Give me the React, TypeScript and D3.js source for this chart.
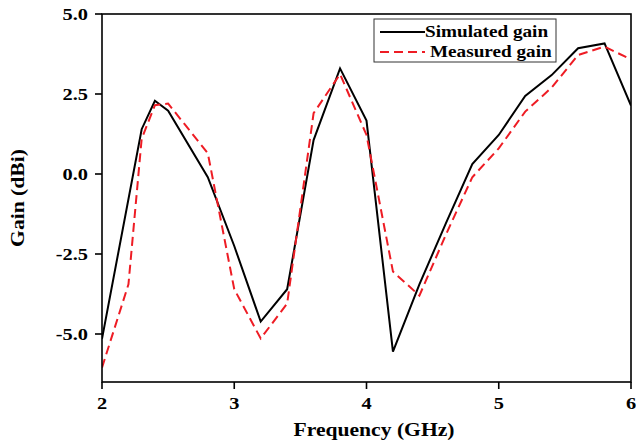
import React from "react";
import * as d3 from "d3";

const simFreq = [2.0, 2.3, 2.4, 2.5, 2.8, 3.0, 3.2, 3.4, 3.6, 3.8, 4.0, 4.2, 4.4, 4.6, 4.8, 5.0, 5.2, 5.4, 5.6, 5.8, 6.0];
const simGain = [-5.15, 1.4, 2.29, 1.98, -0.1, -2.25, -4.61, -3.6, 1.06, 3.3, 1.67, -5.55, -3.45, -1.54, 0.31, 1.22, 2.44, 3.09, 3.93, 4.08, 2.14];

const measFreq = [2.0, 2.2, 2.3, 2.4, 2.5, 2.8, 3.0, 3.2, 3.4, 3.6, 3.8, 4.0, 4.2, 4.4, 4.6, 4.8, 5.0, 5.2, 5.4, 5.6, 5.8, 6.0];
const measGain = [-6.05, -3.45, 1.1, 2.15, 2.2, 0.65, -3.6, -5.14, -4.05, 1.9, 3.12, 1.22, -3.05, -3.8, -1.9, -0.1, 0.8, 1.95, 2.7, 3.72, 3.98, 3.58];

const xTicks = [2, 3, 4, 5, 6];
const yTicks = [-5.0, -2.5, 0.0, 2.5, 5.0];
const seriesNames = ["Simulated gain", "Measured gain"];

const W = 636, H = 444;
const L = 102, R = 631, T = 14, B = 382;
const FONT = "'Liberation Serif', 'Times New Roman', serif";
const RED = "#ee1c24";
const SX = 1.2;

function Txt({ x, y, size, anchor, children, rotate }: any) {
  const tr = rotate ? `translate(${x},${y}) rotate(-90) scale(${SX},1)` : `translate(${x},${y}) scale(${SX},1)`;
  return (
    <text transform={tr} textAnchor={anchor || "start"} fontSize={size} fontWeight="bold">{children}</text>
  );
}

export default function App() {
  const x = d3.scaleLinear().domain([2, 6]).range([L, R]);
  const y = d3.scaleLinear().domain([-6.5, 5]).range([B, T]);
  const line = d3.line<[number, number]>().x(d => x(d[0])).y(d => y(d[1]));
  const sim = simFreq.map((f, i) => [f, simGain[i]] as [number, number]);
  const meas = measFreq.map((f, i) => [f, measGain[i]] as [number, number]);

  return (
    <svg width={W} height={H} style={{ position: "absolute", left: 0, top: 0, background: "#fff" }} fontFamily={FONT}>
      <rect x={0} y={0} width={W} height={H} fill="#fff" />
      <defs>
        <clipPath id="plot"><rect x={L} y={T} width={R - L} height={B - T} /></clipPath>
      </defs>
      <g clipPath="url(#plot)">
        <path d={line(sim) || ""} fill="none" stroke="#000" strokeWidth={2} strokeLinejoin="miter" />
        <path d={line(meas) || ""} fill="none" stroke={RED} strokeWidth={2} strokeDasharray="9,5" />
      </g>
      <rect x={L} y={T} width={R - L} height={B - T} fill="none" stroke="#000" strokeWidth={1.6} />
      {yTicks.map(t => (
        <g key={"y" + t}>
          <line x1={L - 7} x2={L} y1={y(t)} y2={y(t)} stroke="#000" strokeWidth={1.6} />
          <Txt x={88} y={y(t) + 6} size={17} anchor="end">{t.toFixed(1)}</Txt>
        </g>
      ))}
      {xTicks.map(t => (
        <g key={"x" + t}>
          <line x1={x(t)} x2={x(t)} y1={B} y2={B + 7} stroke="#000" strokeWidth={1.6} />
          <Txt x={x(t)} y={409} size={17} anchor="middle">{t}</Txt>
        </g>
      ))}
      <Txt x={374} y={436} size={18} anchor="middle">Frequency (GHz)</Txt>
      <Txt x={24} y={198} size={18} anchor="middle" rotate>Gain (dBi)</Txt>
      <g>
        <rect x={374} y={19} width={182} height={43} fill="#fff" stroke="#333" strokeWidth={1} />
        <line x1={380} x2={425} y1={32} y2={32} stroke="#000" strokeWidth={2} />
        <line x1={380} x2={425} y1={52} y2={52} stroke={RED} strokeWidth={2} strokeDasharray="9,5" />
        <Txt x={425} y={37} size={16}>{seriesNames[0]}</Txt>
        <Txt x={430} y={57} size={16}>{seriesNames[1]}</Txt>
      </g>
    </svg>
  );
}
